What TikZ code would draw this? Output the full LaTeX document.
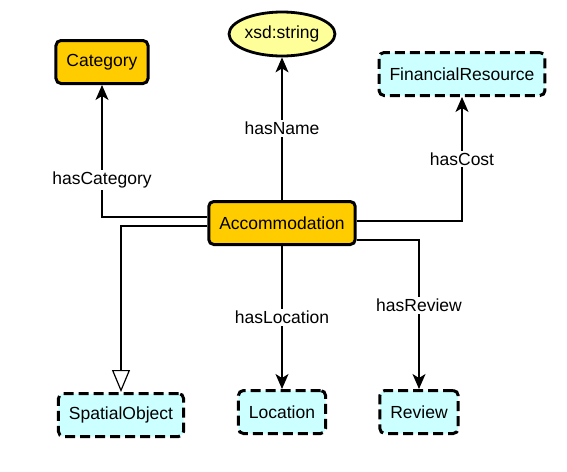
\documentclass[tikz,border=0pt]{standalone}
\usepackage{fontspec}
\setmainfont{Liberation Sans}
\usetikzlibrary{arrows.meta, shapes.geometric}

\definecolor{classgold}{HTML}{FFCC00}
\definecolor{lityellow}{HTML}{FFFF99}
\definecolor{extcyan}{HTML}{CCFFFF}

\begin{document}
\begin{tikzpicture}[x=1pt, y=-1pt,
        every node/.style = {font=\fontsize{17.5}{20}\selectfont, align=center},
        cls/.style = {shape=rectangle, rounded corners=5pt, draw, line width=3pt,
            fill=classgold, inner xsep=10.5pt, minimum height=43pt},
        ext/.style = {cls, fill=extcyan, dash pattern=on 10pt off 5pt},
        lit/.style = {ellipse, draw, line width=2.8pt, fill=lityellow,
            minimum width=97pt, minimum height=44pt, inner sep=0pt},
        edge/.style = {draw, line width=1.3pt,
            -{Stealth[length=15pt, width=13pt, inset=4pt]}},
        sub/.style = {draw, line width=1.1pt,
            -{Triangle[open, length=22pt, width=18pt, line width=1.2pt]}},
        lbl/.style = {fill=white, inner sep=2pt}]
        \useasboundingbox (0,0) rectangle (567,471);

        \node [cls] (acc) at (282,223) {Accommodation};
        \node [cls] (cat) at (102,62) {Category};
        \node [lit] (xsd) at (282,34) {xsd:string};
        \node [ext] (fin) at (462,74) {FinancialResource};
        \node [ext] (spo) at (121,415) {SpatialObject};
        \node [ext] (loc) at (282,412) {Location};
        \node [ext] (rev) at (419,412) {Review};

        % properties
        \draw [edge] ([yshift=6pt]acc.west) -| node [lbl, pos=0.64] {hasCategory} (cat);
        \draw [edge] (acc) -- node [lbl] {hasName} (xsd);
        \draw [edge] ([yshift=2pt]acc.east) -| node [lbl, pos=0.75] {hasCost} (fin);
        \draw [edge] (acc) -- node [lbl, pos=0.5] {hasLocation} (loc);
        \draw [edge] ([yshift=-17pt]acc.east) -| node [lbl, pos=0.72] {hasReview} (rev);
        % subclass
        \draw [sub] ([yshift=-3pt]acc.west) -| (spo);
        \end{tikzpicture}
\end{document}
